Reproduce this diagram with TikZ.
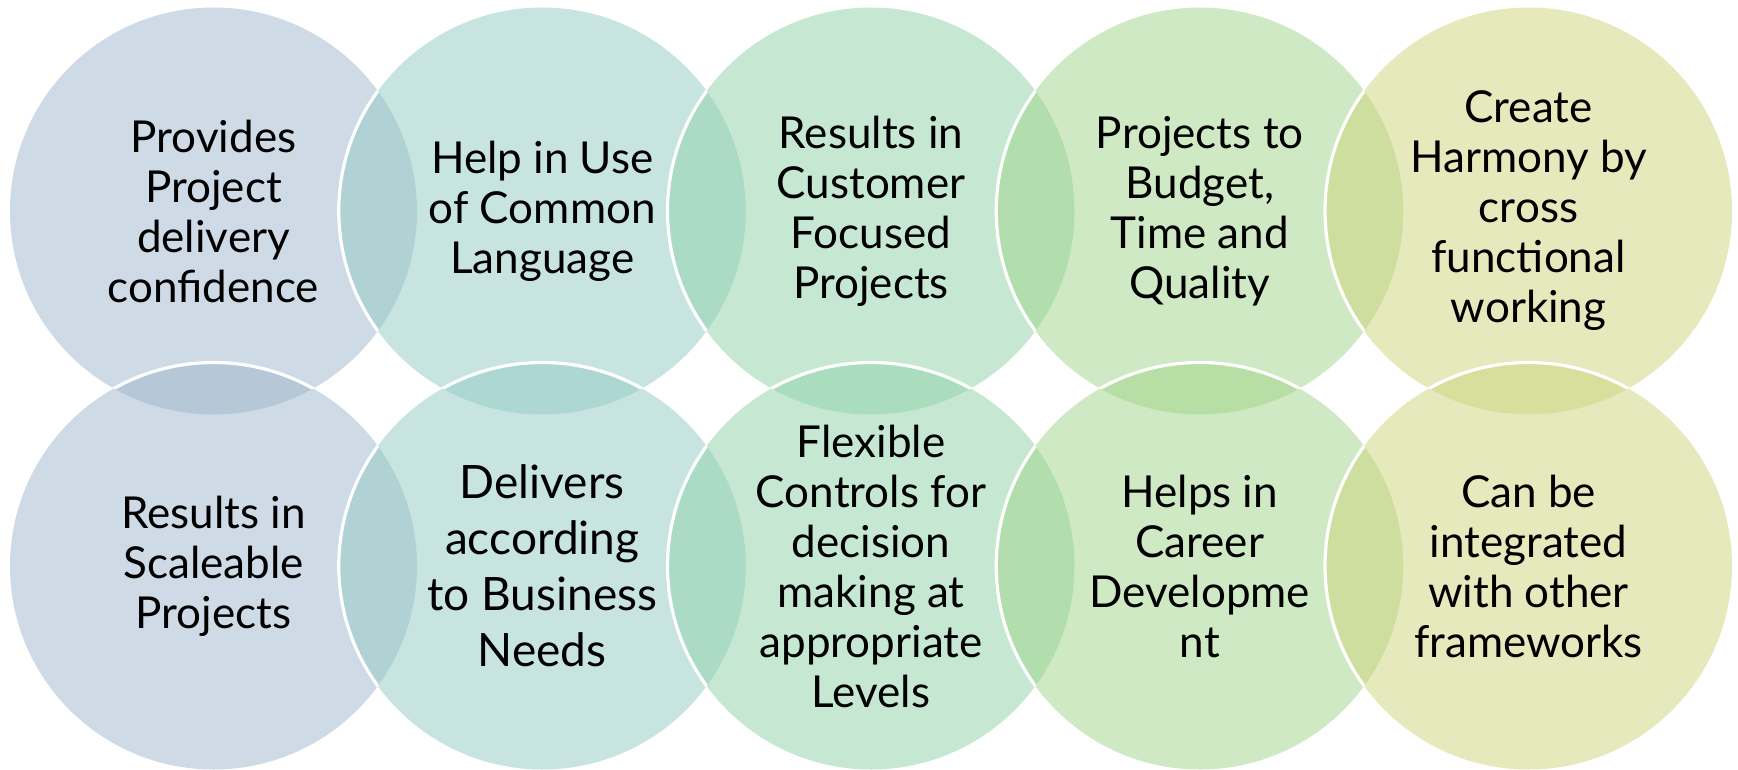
\documentclass[tikz,border=0pt]{standalone}
\usepackage{fontspec}
\setmainfont{Lato}
\definecolor{cA}{RGB}{159,183,205}
\definecolor{cB}{RGB}{147,203,197}
\definecolor{cC}{RGB}{143,211,169}
\definecolor{cD}{RGB}{159,213,137}
\definecolor{cE}{RGB}{205,213,123}
\begin{document}
\begin{tikzpicture}[x=0.5pt,y=-0.5pt,
  lbl/.style={align=center, text=black, inner sep=0pt, font=\fontsize{22pt}{25pt}\selectfont},
  biglbl/.style={align=center, text=black, inner sep=0pt, font=\fontsize{23pt}{28pt}\selectfont},
  disc/.style={fill opacity=0.5},
  rim/.style={draw=white, line width=1.6pt}]
\fill[white] (0,0) rectangle (1738,770);
\useasboundingbox (0,0) rectangle (1738,770);
\def\R{101.75pt}
% centres
\coordinate (A1) at (213.5,211);
\coordinate (B1) at (542.25,211);
\coordinate (C1) at (871,211);
\coordinate (D1) at (1199.75,211);
\coordinate (E1) at (1528.5,211);
\coordinate (A2) at (213.5,566);
\coordinate (B2) at (542.25,566);
\coordinate (C2) at (871,566);
\coordinate (D2) at (1199.75,566);
\coordinate (E2) at (1528.5,566);
% top row
\fill[cA, disc] (A1) circle[radius=\R];
\fill[cB, disc] (B1) circle[radius=\R];
\begin{scope}\clip (A1) circle[radius=\R]; \path[rim] (B1) circle[radius=\R];\end{scope}
\fill[cC, disc] (C1) circle[radius=\R];
\begin{scope}\clip (B1) circle[radius=\R]; \path[rim] (C1) circle[radius=\R];\end{scope}
\fill[cD, disc] (D1) circle[radius=\R];
\begin{scope}\clip (C1) circle[radius=\R]; \path[rim] (D1) circle[radius=\R];\end{scope}
\fill[cE, disc] (E1) circle[radius=\R];
\begin{scope}\clip (D1) circle[radius=\R]; \path[rim] (E1) circle[radius=\R];\end{scope}
% bottom row
\fill[cA, disc] (A2) circle[radius=\R];
\begin{scope}\clip (A1) circle[radius=\R]; \path[rim] (A2) circle[radius=\R];\end{scope}
\fill[cB, disc] (B2) circle[radius=\R];
\begin{scope}\clip (B1) circle[radius=\R]; \path[rim] (B2) circle[radius=\R];\end{scope}
\begin{scope}\clip (A2) circle[radius=\R]; \path[rim] (B2) circle[radius=\R];\end{scope}
\fill[cC, disc] (C2) circle[radius=\R];
\begin{scope}\clip (C1) circle[radius=\R]; \path[rim] (C2) circle[radius=\R];\end{scope}
\begin{scope}\clip (B2) circle[radius=\R]; \path[rim] (C2) circle[radius=\R];\end{scope}
\fill[cD, disc] (D2) circle[radius=\R];
\begin{scope}\clip (D1) circle[radius=\R]; \path[rim] (D2) circle[radius=\R];\end{scope}
\begin{scope}\clip (C2) circle[radius=\R]; \path[rim] (D2) circle[radius=\R];\end{scope}
\fill[cE, disc] (E2) circle[radius=\R];
\begin{scope}\clip (E1) circle[radius=\R]; \path[rim] (E2) circle[radius=\R];\end{scope}
\begin{scope}\clip (D2) circle[radius=\R]; \path[rim] (E2) circle[radius=\R];\end{scope}
% labels
\node[lbl] (tA) at (A1) {Provides\\Project\\delivery\\confidence};
\node[lbl] (tB) at (B1) {Help in Use\\of Common\\Language};
\node[lbl] (tC) at (C1) {Results in\\Customer\\Focused\\Projects};
\node[lbl] (tD) at (D1) {Projects to\\Budget,\\Time and\\Quality};
\node[lbl] (tE) at (E1) {Create\\Harmony by\\cross\\functional\\working};
\node[lbl] (bA) at (A2) {Results in\\Scaleable\\Projects};
\node[biglbl] (bB) at (B2) {Delivers\\according\\to Business\\Needs};
\node[lbl] (bC) at (C2) {Flexible\\Controls for\\decision\\making at\\appropriate\\Levels};
\node[lbl] (bD) at (D2) {Helps in\\Career\\Developme\\nt};
\node[lbl] (bE) at (E2) {Can be\\integrated\\with other\\frameworks};
\end{tikzpicture}
\end{document}
